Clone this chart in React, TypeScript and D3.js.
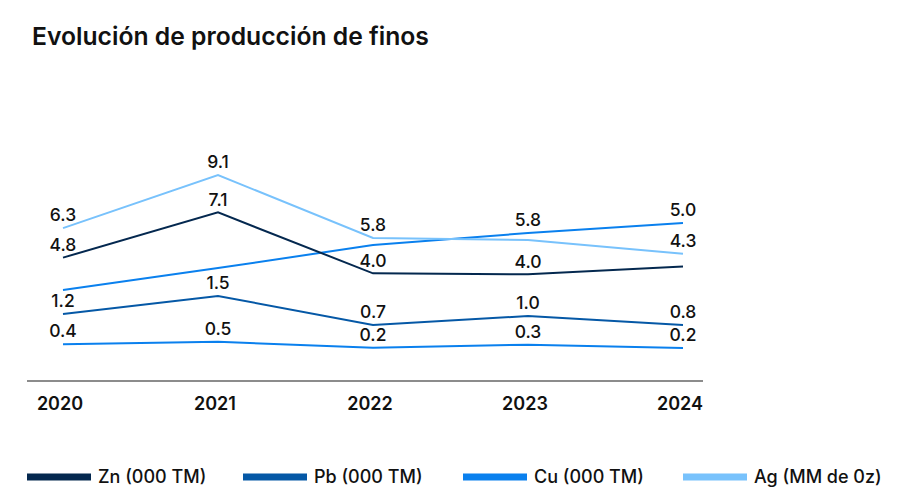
import React from "react";
import * as d3 from "d3";

const years = [2020, 2021, 2022, 2023, 2024];

// Values (shared value scale)
const zn = [4.8, 7.1, 4.0, 3.95, 4.35];
const pb = [1.93, 2.85, 1.37, 1.83, 1.37];
const cu = [0.4, 0.52, 0.22, 0.37, 0.2];
const cuTrend = [3.15, 4.27, 5.44, 6.05, 6.56];
const ag = [6.3, 9.0, 5.8, 5.7, 5.0];

// Data labels as printed on the chart, with the line each sits above
const labelRowTop = ["6.3", "9.1", "5.8", "5.8", "5.0"];
const labelRowTopOn = ["ag", "ag", "ag", "cuTrend", "cuTrend"];
const labelRowSecond = ["4.8", "7.1", "4.0", "4.0", "4.3"];
const labelRowSecondOn = ["zn", "zn", "zn", "zn", "ag"];
const labelRowPb = ["1.2", "1.5", "0.7", "1.0", "0.8"];
const labelRowCu = ["0.4", "0.5", "0.2", "0.3", "0.2"];

const legendNames = ["Zn (000 TM)", "Pb (000 TM)", "Cu (000 TM)", "Ag (MM de 0z)"];

const COLORS: Record<string, string> = {
  zn: "#04284F",
  pb: "#0558A6",
  cu: "#0A80EE",
  cuTrend: "#0A80EE",
  ag: "#78C2FC",
};

const FONT = "Inter, 'Noto Sans', sans-serif";

export default function App() {
  const W = 904;
  const H = 502;
  const x = d3.scaleLinear().domain([2020, 2024]).range([63, 683]);
  const y = d3.scaleLinear().domain([0, 10]).range([352, 155.4]);

  const series: Record<string, number[]> = { zn, pb, cu, cuTrend, ag };
  const drawOrder = ["cu", "pb", "cuTrend", "zn", "ag"];
  const line = d3
    .line<number>()
    .x((_, i) => x(years[i]))
    .y((v) => y(v));

  const labelOffset = 13;
  const labels: { text: string; key: string; i: number }[] = [];
  labelRowTop.forEach((t, i) => labels.push({ text: t, key: labelRowTopOn[i], i }));
  labelRowSecond.forEach((t, i) => labels.push({ text: t, key: labelRowSecondOn[i], i }));
  labelRowPb.forEach((t, i) => labels.push({ text: t, key: "pb", i }));
  labelRowCu.forEach((t, i) => labels.push({ text: t, key: "cu", i }));

  const legendX = [27, 243, 463, 683];
  const legendKeys = ["zn", "pb", "cu", "ag"];

  return (
    <svg
      width={W}
      height={H}
      style={{ position: "absolute", left: 0, top: 0, background: "#fff" }}
      fontFamily={FONT}
    >
      <text x={32} y={45} fontSize={24.7} fontWeight={600} fill="#111">
        Evolución de producción de finos
      </text>

      {drawOrder.map((k) => (
        <path
          key={k}
          d={line(series[k]) || ""}
          fill="none"
          stroke={COLORS[k]}
          strokeWidth={2}
        />
      ))}

      {labels.map((l, idx) => (
        <text
          key={idx}
          x={x(years[l.i])}
          y={y(series[l.key][l.i]) - labelOffset}
          dy="0.36em"
          textAnchor="middle"
          fontSize={17.5}
          fontWeight={500}
          fill="#111"
        >
          {l.text}
        </text>
      ))}

      <line x1={27} x2={703} y1={381} y2={381} stroke="#666" strokeWidth={1.5} />
      {years.map((yr) => (
        <text
          key={yr}
          x={x(yr) - 3}
          y={404}
          dy="0.36em"
          textAnchor="middle"
          fontSize={18}
          fontWeight={600}
          fill="#111"
        >
          {yr}
        </text>
      ))}

      {legendNames.map((n, i) => (
        <g key={n} transform={`translate(${legendX[i]},477)`}>
          <rect x={0} y={-3.5} width={64} height={7} fill={COLORS[legendKeys[i]]} />
          <text x={71} y={0} dy="0.36em" fontSize={18} fontWeight={500} fill="#111">
            {n}
          </text>
        </g>
      ))}
    </svg>
  );
}
